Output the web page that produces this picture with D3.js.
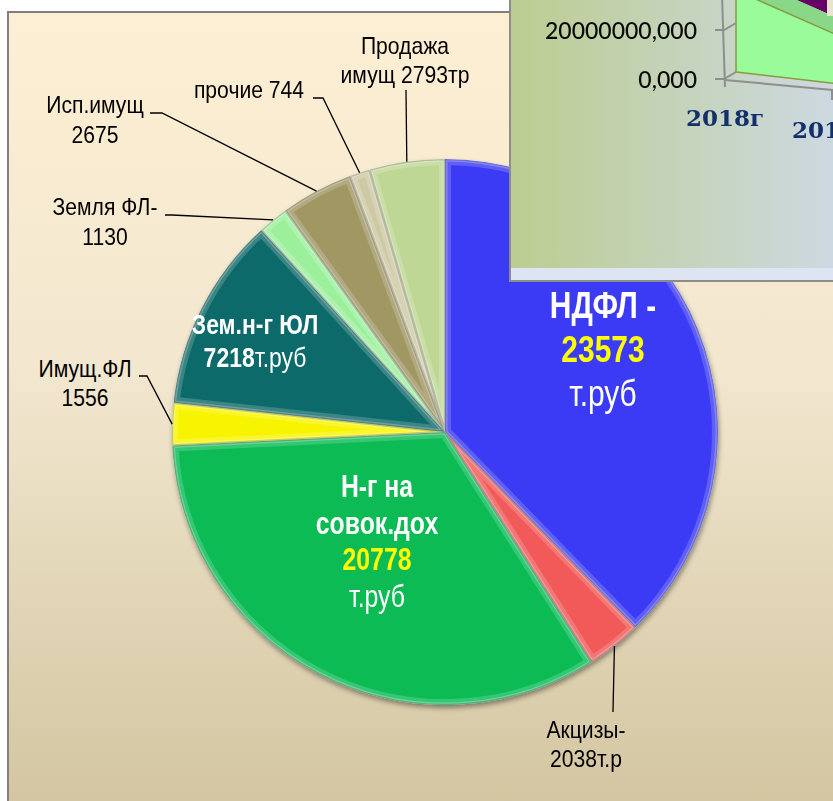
<!DOCTYPE html>
<html>
<head>
<meta charset="utf-8">
<script src="https://cdn.jsdelivr.net/npm/d3@7"></script>
<style>
  body { margin: 0; background: #fff; }
  svg { display: block; }
</style>
</head>
<body>
<svg width="833" height="801"></svg>
<script>
// pie data (тыс. руб)
var categories = ["НДФЛ", "Акцизы", "Н-г на совок.дох", "Имущ.ФЛ", "Зем.н-г ЮЛ",
                  "Земля ФЛ", "Исп.имущ", "прочие", "Продажа имущ"];
var values = [23573, 2038, 20778, 1556, 7218, 1130, 2675, 744, 2793];
var colors = ["#3b3bf6", "#f25a5a", "#0abb55", "#f8f400", "#0f6b6a",
              "#9cf09c", "#a09763", "#cdc9a4", "#bfd795"];

// the piece of another chart lying over the top right corner
var insetYears = ["2018г", "2019г"];
var insetTicks = [0, 20000000];
var insetArea = [33300000, 16000000];

// label text, one array of lines per slice, each line a list of [text, style]
function labelLines(i) {
  var v = String(values[i]);
  switch (i) {
    case 0: return [[["НДФЛ -", "b"]], [[v, "y"]], [["т.руб", "n"]]];
    case 1: return [[["Акцизы-", "k"]], [[v + "т.р", "k"]]];
    case 2: return [[["Н-г на", "b"]], [["совок.дох", "b"]], [[v, "y"]], [["т.руб", "n"]]];
    case 3: return [[["Имущ.ФЛ", "k"]], [[v, "k"]]];
    case 4: return [[["Зем.н-г ЮЛ", "b"]], [[v, "b"], ["т.руб", "n"]]];
    case 5: return [[["Земля ФЛ-", "k"]], [[v, "k"]]];
    case 6: return [[["Исп.имущ", "k"]], [[v, "k"]]];
    case 7: return [[["прочие " + v, "k"]]];
    case 8: return [[["Продажа", "k"]], [["имущ " + v + "тр", "k"]]];
  }
}

// where each label sits
var labelLayout = [
  {x: 603, y: 318, lh: 44, fs: 37, sx: 0.81},
  {x: 586, y: 738, lh: 29, fs: 23, sx: 0.92, leader: [[613, 712]]},
  {x: 377, y: 497, lh: 36.7, fs: 31, sx: 0.8},
  {x: 85, y: 377, lh: 29, fs: 23, sx: 0.92, leader: [[147, 376], [139, 376]]},
  {x: 255, y: 334, lh: 33, fs: 27, sx: 0.85},
  {x: 105, y: 215, lh: 30, fs: 23, sx: 0.92, leader: [[172, 215], [165, 215]]},
  {x: 95, y: 113, lh: 30, fs: 23, sx: 0.92, leader: [[162, 113], [150, 113]]},
  {x: 249, y: 98, lh: 29, fs: 23, sx: 0.92, leader: [[323, 98], [313, 98]]},
  {x: 405, y: 54, lh: 29, fs: 23, sx: 0.92, leader: [[406, 90]]}
];

var svg = d3.select("svg");
var defs = svg.append("defs");

var bg = defs.append("linearGradient").attr("id", "bg")
  .attr("x1", 0).attr("y1", 0).attr("x2", 0).attr("y2", 1);
bg.append("stop").attr("offset", "0%").attr("stop-color", "#fdefd3");
bg.append("stop").attr("offset", "45%").attr("stop-color", "#f2e7cf");
bg.append("stop").attr("offset", "100%").attr("stop-color", "#d3c5a0");

var ig = defs.append("linearGradient").attr("id", "insetbg")
  .attr("x1", 0).attr("y1", 0).attr("x2", 1).attr("y2", 0);
ig.append("stop").attr("offset", "0%").attr("stop-color", "#bccd90");
ig.append("stop").attr("offset", "100%").attr("stop-color", "#cdd9e2");

var sh = defs.append("filter").attr("id", "shadow")
  .attr("x", "-10%").attr("y", "-10%").attr("width", "120%").attr("height", "120%");
sh.append("feDropShadow").attr("dx", 1).attr("dy", 3).attr("stdDeviation", 2.5)
  .attr("flood-color", "#000").attr("flood-opacity", 0.4);

// frame
svg.append("rect").attr("x", 8).attr("y", 12).attr("width", 840).attr("height", 800)
  .attr("fill", "url(#bg)").attr("stroke", "#808080").attr("stroke-width", 2);

// pie
var cx = 445, cy = 432, r = 273;
var pie = d3.pie().sort(null).value(function(d) { return d; });
var arcs = pie(values);
var arc = d3.arc().innerRadius(0).outerRadius(r);
var edge = d3.arc().innerRadius(r).outerRadius(r);

var g = svg.append("g").attr("transform", "translate(" + cx + "," + cy + ")");
var slices = g.append("g").attr("filter", "url(#shadow)");

arcs.forEach(function(d, i) {
  defs.append("clipPath").attr("id", "clip" + i)
    .append("path").attr("d", arc(d));
  var s = slices.append("g").attr("clip-path", "url(#clip" + i + ")");
  s.append("path").attr("d", arc(d)).attr("fill", colors[i]);
  // soft bevel along the edges
  s.append("path").attr("d", arc(d)).attr("fill", "none")
    .attr("stroke", "#fff").attr("stroke-opacity", 0.18).attr("stroke-width", 12);
  s.append("path").attr("d", arc(d)).attr("fill", "none")
    .attr("stroke", "#fff").attr("stroke-opacity", 0.25).attr("stroke-width", 5);
  s.append("path").attr("d", arc(d)).attr("fill", "none")
    .attr("stroke", "#000").attr("stroke-opacity", 0.18).attr("stroke-width", 2.5);
});

// leader lines
arcs.forEach(function(d, i) {
  var L = labelLayout[i];
  if (!L.leader) return;
  var p = edge.centroid(d);
  var pts = [[cx + p[0], cy + p[1]]].concat(L.leader);
  svg.append("path").attr("d", d3.line()(pts))
    .attr("fill", "none").attr("stroke", "#000").attr("stroke-width", 1.3);
});

// labels
var styles = {
  b: {fill: "#fff", weight: "bold"},
  y: {fill: "#ffff00", weight: "bold"},
  n: {fill: "#fff", weight: "normal"},
  k: {fill: "#000", weight: "normal"}
};
arcs.forEach(function(d, i) {
  var L = labelLayout[i];
  var lg = svg.append("g")
    .attr("transform", "translate(" + L.x + "," + L.y + ") scale(" + L.sx + ",1)");
  labelLines(i).forEach(function(line, j) {
    var t = lg.append("text").attr("x", 0).attr("y", j * L.lh)
      .attr("text-anchor", "middle")
      .attr("font-family", "'Liberation Sans', Arial, sans-serif")
      .attr("font-size", L.fs);
    line.forEach(function(run) {
      var st = styles[run[1]];
      t.append("tspan").text(run[0]).attr("fill", st.fill).attr("font-weight", st.weight);
    });
  });
});

// white strip above the frame
svg.append("rect").attr("x", 0).attr("y", 0).attr("width", 833).attr("height", 11).attr("fill", "#fff");

// inset chart piece
var ins = svg.append("g");
defs.append("clipPath").attr("id", "insclip")
  .append("rect").attr("x", 511).attr("y", 0).attr("width", 322).attr("height", 280);
ins.append("rect").attr("x", 510).attr("y", -5).attr("width", 330).attr("height", 286)
  .attr("fill", "url(#insetbg)").attr("stroke", "#8c8c8c").attr("stroke-width", 2);
ins.append("rect").attr("x", 511).attr("y", 268).attr("width", 322).attr("height", 12)
  .attr("fill", "#dde4f2");

var ic = ins.append("g").attr("clip-path", "url(#insclip)");

var yTick = d3.scaleLinear().domain([0, 20000000]).range([79, 30]);
var pxPerUnit = (yTick(0) - yTick(20000000)) / 20000000;
var xFront = d3.scalePoint().domain(insetYears).range([736, 866]);
var xLabel = d3.scalePoint().domain(insetYears).range([725, 831]);
var depth = [14, -11];
function base(x) { return 72 + (x - 736) * 0.115; }

var front = insetYears.map(function(yr, i) {
  var x = xFront(yr);
  return [x, base(x) - insetArea[i] * pxPerUnit];
});
var back = front.map(function(p) { return [p[0] + depth[0], p[1] + depth[1]]; });

// series behind (purple) and the legend box corner
ic.append("path")
  .attr("d", d3.line()([back[0], back[1], [back[1][0], -60], [back[0][0], -60]]) + "Z")
  .attr("fill", "#660066");
// top face of the area
ic.append("path")
  .attr("d", d3.line()([front[0], front[1], back[1], back[0]]) + "Z")
  .attr("fill", "#88d888");
// front face of the area
ic.append("path")
  .attr("d", d3.line()([[736, base(736)], [866, base(866)], front[1], front[0]]) + "Z")
  .attr("fill", "#99fb99").attr("stroke", "#8a9a3c").attr("stroke-width", 1.5);
ic.append("rect").attr("x", 827).attr("y", -2).attr("width", 10).attr("height", 18)
  .attr("fill", "#e6e6cc");

// axes
var axisColor = "#8e8e8e";
ic.append("line").attr("x1", 722).attr("y1", -5).attr("x2", 725).attr("y2", 87)
  .attr("stroke", axisColor).attr("stroke-width", 2);
insetTicks.forEach(function(t) {
  var y = yTick(t);
  ic.append("path").attr("d", d3.line()([[715, y], [724, y], [736, y - 7]]))
    .attr("fill", "none").attr("stroke", axisColor).attr("stroke-width", 2);
  ic.append("text").attr("x", 697).attr("y", y + 9).attr("text-anchor", "end")
    .attr("font-family", "Lato, 'Open Sans', sans-serif").attr("font-size", 23)
    .attr("font-weight", 500)
    .attr("fill", "#0a0a0a").text(d3.format(",")(t).replace(/,/g, "") + ",000");
});
ic.append("line").attr("x1", 725).attr("y1", 80).attr("x2", 845).attr("y2", 91)
  .attr("stroke", axisColor).attr("stroke-width", 2);
ic.append("line").attr("x1", 832).attr("y1", 90).attr("x2", 832).attr("y2", 100)
  .attr("stroke", axisColor).attr("stroke-width", 2);

insetYears.forEach(function(yr, i) {
  ic.append("text").attr("x", xLabel(yr)).attr("y", 126 + i * 12)
    .attr("text-anchor", "middle")
    .attr("font-family", "'DejaVu Serif', 'Liberation Serif', serif")
    .attr("font-weight", "bold").attr("font-size", 23)
    .attr("fill", "#13306a").text(yr);
});
</script>
</body>
</html>
